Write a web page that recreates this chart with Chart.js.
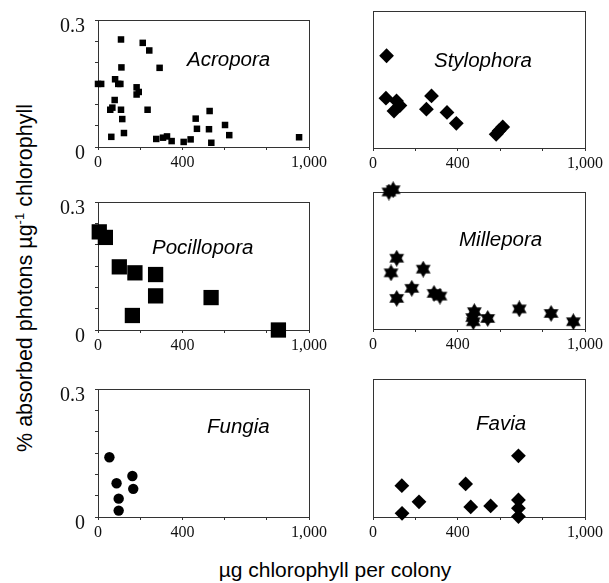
<!DOCTYPE html>
<html>
<head>
<meta charset="utf-8">
<script src="https://cdn.jsdelivr.net/npm/chart.js"></script>
<style>
body { margin: 0; background: #fff; }
#wrap { position: relative; width: 609px; height: 583px; overflow: hidden; }
canvas { position: absolute; }
.species { position: absolute; font: italic 20.5px "Liberation Sans", Arial, sans-serif; color: #000; white-space: nowrap; }
#ytitle { position: absolute; left: 25px; top: 278px; transform: translate(-50%, -50%) rotate(-90deg); font: 21.5px "Liberation Sans", Arial, sans-serif; white-space: nowrap; }
#ytitle sup { font-size: 13px; }
#xtitle { position: absolute; left: 335px; top: 570px; transform: translate(-50%, -50%); font: 21px "Liberation Sans", Arial, sans-serif; white-space: nowrap; }
</style>
</head>
<body>
<div id="wrap">
<canvas id="c1"></canvas><canvas id="c2"></canvas>
<canvas id="c3"></canvas><canvas id="c4"></canvas>
<canvas id="c5"></canvas><canvas id="c6"></canvas>
<div class="species" style="left:187px;top:47px">Acropora</div>
<div class="species" style="left:434px;top:48px">Stylophora</div>
<div class="species" style="left:152px;top:235px">Pocillopora</div>
<div class="species" style="left:459px;top:227px">Millepora</div>
<div class="species" style="left:207px;top:414px">Fungia</div>
<div class="species" style="left:476px;top:411px">Favia</div>
<div id="ytitle">% absorbed photons µg<sup>-1</sup> chlorophyll</div>
<div id="xtitle">µg chlorophyll per colony</div>
</div>
<script>
// tick labels
const xTickValues = [0, 400, 1000];
const xTickText = ['0', '400', '1,000'];
const yTickValues = [0, 0.3];
const yTickText = ['0', '0.3'];

// Acropora
const acroporaX = [0, 15, 109, 212, 243, 111, 292, 81, 96, 106, 183, 193, 183, 79, 68, 58, 109, 235, 115, 63, 123, 276, 308, 327, 349, 406, 439, 463, 469, 529, 526, 537, 602, 622, 953];
const acroporaY = [0.149, 0.149, 0.254, 0.246, 0.228, 0.188, 0.187, 0.160, 0.149, 0.149, 0.141, 0.130, 0.124, 0.111, 0.093, 0.088, 0.088, 0.088, 0.066, 0.024, 0.033, 0.019, 0.022, 0.025, 0.014, 0.012, 0.018, 0.067, 0.043, 0.085, 0.042, 0.010, 0.052, 0.028, 0.023];
// Stylophora
const stylophoraX = [64, 61, 111, 127, 99, 276, 252, 349, 393, 612, 595, 581];
const stylophoraY = [0.202, 0.109, 0.103, 0.093, 0.081, 0.114, 0.085, 0.078, 0.054, 0.046, 0.038, 0.030];
// Pocillopora
const pocilloporaX = [6, 35, 101, 175, 273, 273, 536, 163, 855];
const pocilloporaY = [0.230, 0.217, 0.148, 0.134, 0.130, 0.080, 0.076, 0.034, 0.0];
// Millepora
const milleporaX = [75, 95, 112, 85, 237, 112, 183, 288, 316, 478, 473, 470, 541, 690, 840, 945];
const milleporaY = [0.300, 0.305, 0.155, 0.123, 0.131, 0.067, 0.089, 0.078, 0.072, 0.038, 0.016, 0.025, 0.023, 0.044, 0.034, 0.016];
// Fungia
const fungiaX = [54, 163, 88, 167, 98, 98];
const fungiaY = [0.140, 0.096, 0.079, 0.066, 0.043, 0.015];
// Favia
const faviaX = [136, 217, 137, 437, 461, 555, 686, 686, 686, 686];
const faviaY = [0.068, 0.033, 0.008, 0.072, 0.022, 0.024, 0.133, 0.037, 0.019, 0.001];

function starMarker(size) {
  const c = document.createElement('canvas');
  c.width = size; c.height = size;
  const g = c.getContext('2d');
  const r = size / 2, cx = size / 2, cy = size / 2;
  g.fillStyle = '#000';
  for (let k = 0; k < 2; k++) {
    g.beginPath();
    for (let i = 0; i < 3; i++) {
      const a = -Math.PI / 2 + k * Math.PI + i * 2 * Math.PI / 3;
      const px = cx + r * Math.cos(a), py = cy + r * Math.sin(a);
      if (i === 0) g.moveTo(px, py); else g.lineTo(px, py);
    }
    g.closePath();
    g.fill();
  }
  return c;
}

const boxPlugin = {
  id: 'box',
  beforeDatasetsDraw(chart) {
    const a = chart.chartArea, ctx = chart.ctx;
    ctx.save();
    ctx.strokeStyle = '#333';
    ctx.lineWidth = 1;
    ctx.strokeRect(Math.round(a.left) + 0.5, Math.round(a.top) + 0.5, Math.round(a.right - a.left), Math.round(a.bottom - a.top));
    ctx.restore();
  }
};

const PAD_L = 48, PAD_T = 12, PAD_R = 24, PAD_B = 30;

function makePanel(id, area, xs, ys, point, showY) {
  const [L, T, R, B] = area;
  const cv = document.getElementById(id);
  cv.style.left = (L - PAD_L) + 'px';
  cv.style.top = (T - PAD_T) + 'px';
  cv.width = (R - L) + PAD_L + PAD_R;
  cv.height = (B - T) + PAD_T + PAD_B;
  new Chart(cv, {
    type: 'scatter',
    data: {
      datasets: [{
        data: xs.map((x, i) => ({ x: x, y: ys[i] })),
        backgroundColor: '#000',
        borderColor: '#000',
        borderWidth: 0,
        pointStyle: point.style,
        pointRadius: point.radius,
        clip: false
      }]
    },
    options: {
      responsive: false,
      animation: false,
      events: [],
      layout: { padding: { top: PAD_T, right: PAD_R, left: 0, bottom: 0 } },
      plugins: { legend: { display: false }, tooltip: { enabled: false } },
      scales: {
        x: {
          type: 'linear', min: 0, max: 1000,
          afterBuildTicks: s => { s.ticks = [0, 200, 400, 600, 800, 1000].map(v => ({ value: v })); },
          afterFit: s => { s.height = PAD_B; },
          grid: { display: true, drawOnChartArea: false, drawTicks: true, tickLength: 3, color: '#333' },
          border: { display: true, color: '#333' },
          ticks: {
            autoSkip: false, maxRotation: 0, padding: 3, color: '#111',
            font: { family: '"Liberation Serif", "Times New Roman", serif', size: 16 },
            callback: v => { const i = xTickValues.indexOf(v); return i >= 0 ? xTickText[i] : ''; }
          }
        },
        y: {
          type: 'linear', min: 0, max: 0.3,
          afterBuildTicks: s => { s.ticks = [0, 0.05, 0.1, 0.15, 0.2, 0.25, 0.3].map(v => ({ value: v })); },
          afterFit: s => { s.width = PAD_L; },
          grid: { display: showY, drawOnChartArea: false, drawTicks: true, tickLength: 3, color: '#333' },
          border: { display: true, color: '#333' },
          ticks: {
            display: showY, autoSkip: false, padding: 10, labelOffset: 7, color: '#111',
            font: { family: '"Liberation Serif", "Times New Roman", serif', size: 20 },
            callback: v => { const i = yTickValues.findIndex(t => Math.abs(t - v) < 1e-9); return i >= 0 ? yTickText[i] : ''; }
          }
        }
      }
    },
    plugins: [boxPlugin]
  });
}

makePanel('c1', [98, 10, 309, 147], acroporaX, acroporaY, { style: 'rect', radius: 4.6 }, true);
makePanel('c2', [373, 11, 585, 148], stylophoraX, stylophoraY, { style: 'rectRot', radius: 7.4 }, false);
makePanel('c3', [98, 192, 309, 330], pocilloporaX, pocilloporaY, { style: 'rect', radius: 10.8 }, true);
makePanel('c4', [373, 192, 585, 329], milleporaX, milleporaY, { style: starMarker(17), radius: 8 }, false);
makePanel('c5', [98, 379, 309, 517], fungiaX, fungiaY, { style: 'circle', radius: 5.2 }, true);
makePanel('c6', [373, 379, 585, 517], faviaX, faviaY, { style: 'rectRot', radius: 7.4 }, false);
</script>
</body>
</html>
